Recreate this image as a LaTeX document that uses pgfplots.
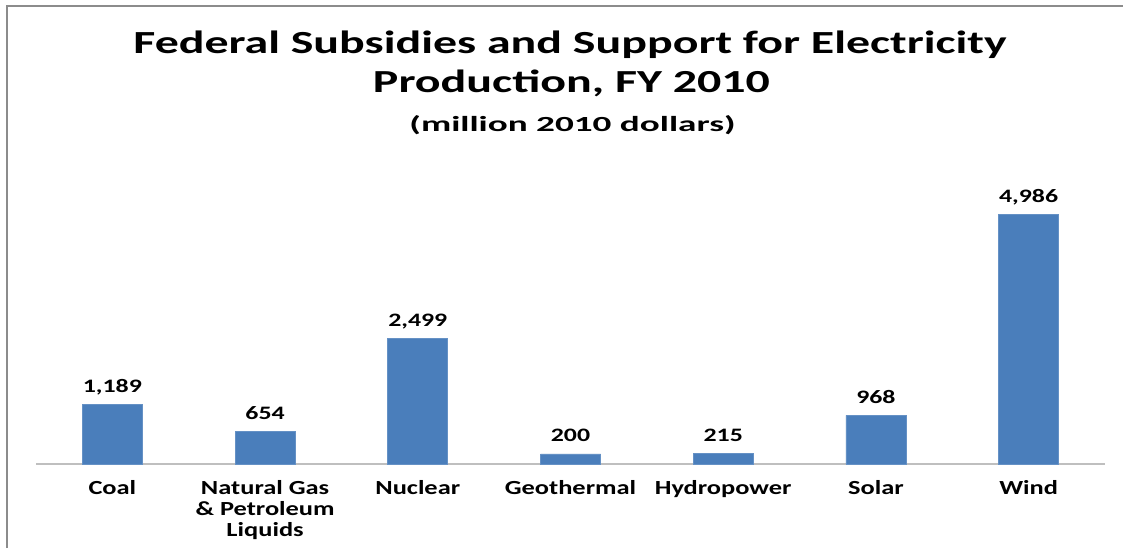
\documentclass[border=0pt]{standalone}
\usepackage{fontspec}
\setmainfont{Carlito}
\usepackage{graphicx}
\usepackage{pgfplots}
\pgfplotsset{compat=1.18}
\definecolor{barblue}{HTML}{4A7EBB}
\definecolor{framegray}{HTML}{8C8C8C}
\definecolor{axisgray}{HTML}{BFBFBF}
\newcommand{\tl}[1]{\scalebox{1.32}[1]{\begin{tabular}[t]{@{}c@{}}#1\end{tabular}}}
\newcommand{\dl}[1]{\scalebox{1.36}[1]{#1}}
\begin{document}
\begin{tikzpicture}
\useasboundingbox (-18pt,-42pt) rectangle (543.5pt,232pt);
\draw[framegray, line width=1pt] (-14.5pt,-42pt) -- (-14.5pt,229pt) -- (543.5pt,229pt);
\begin{axis}[
  at={(0,0)}, anchor=south west,
  scale only axis,
  width=534.5pt, height=125.35pt,
  xmin=-0.5, xmax=6.5, ymin=0, ymax=5000,
  clip=false,
  axis y line=none,
  axis x line*=bottom,
  x axis line style={axisgray, line width=0.9pt, -},
  xtick={0,1,2,3,4,5,6},
  xticklabels={\tl{Coal}, \tl{Natural Gas\\\& Petroleum\\Liquids}, \tl{Nuclear}, \tl{Geothermal}, \tl{Hydropower}, \tl{Solar}, \tl{Wind}},
  major tick length=0pt,
  xticklabel style={font=\fontsize{10}{10.65}\selectfont\bfseries, anchor=base, inner sep=0pt, yshift=-15pt},
  ybar, bar width=30pt, bar shift=0pt,
  nodes near coords={\dl{\pgfplotspointmeta}},
  point meta=explicit symbolic,
  every node near coord/.append style={font=\fontsize{9.5}{11}\selectfont\bfseries, anchor=base, inner sep=0pt, yshift=6pt},
]
\addplot[fill=barblue, draw=barblue!85!white, line width=0.3pt] coordinates {
  (0,1189) [1,189]
  (1,654) [654]
  (2,2499) [2,499]
  (3,200) [200]
  (4,215) [215]
  (5,968) [968]
  (6,4986) [4,986]
};
\end{axis}
\node[anchor=base, inner sep=0pt, font=\bfseries] at (267pt,205.35pt) {\resizebox{436.5pt}{11.3pt}{Federal Subsidies and Support for Electricity}};
\node[anchor=base, inner sep=0pt, font=\bfseries] at (267.75pt,185.6pt) {\resizebox{198.5pt}{11.3pt}{Production, FY 2010}};
\node[anchor=base, inner sep=0pt, font=\bfseries] at (268.25pt,166.5pt) {\resizebox{163pt}{8pt}{(million 2010 dollars)}};
\end{tikzpicture}
\end{document}
